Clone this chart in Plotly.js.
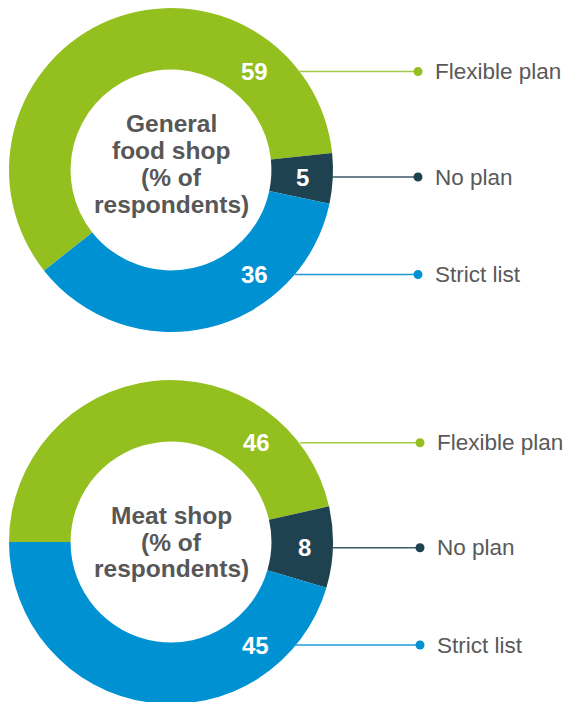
<!DOCTYPE html>
<html>
<head>
<meta charset="utf-8">
<script src="https://cdn.plot.ly/plotly-3.0.1.min.js"></script>
<style>
html,body{margin:0;padding:0;overflow:hidden;background:#fff;}
#chart{width:566px;height:710px;}
</style>
</head>
<body>
<div id="chart"></div>
<script>
// ---- data ----
const categories = ["Flexible plan", "No plan", "Strict list"];
const generalValues = [59, 5, 36];
const meatValues = [46, 8, 45];
const generalTitle = ["General", "food shop", "(% of", "respondents)"];
const meatTitle = ["Meat shop", "(% of", "respondents)"];
const sliceColors = ["#93c01f", "#1f4250", "#0091d3"];
const lineColors = ["#a3c94a", "#3d5966", "#1f9ad6"];

// ---- layout constants (pixels) ----
const W = 566, H = 710;
const R = 162;
const FONT = "Liberation Sans, Arial, Helvetica, sans-serif";

const charts = [
  {values: generalValues, title: generalTitle, cx: 171, cy: 170, rot: 231.6,
   labelY: [71.5, 177, 274.5], numX: [254, 302, 254], lineX0: [298, 332, 295],
   titleY: 164, dotX: 418},
  {values: meatValues, title: meatTitle, cx: 171, cy: 542, rot: 270,
   labelY: [442.7, 547.7, 645], numX: [256, 304, 255], lineX0: [300, 333, 295],
   titleY: 542, dotX: 420}
];

const traces = [];
const annotations = [];
const shapes = [];
const LINE_H = 26.7;

charts.forEach(c => {
  traces.push({
    type: "pie",
    values: c.values,
    labels: categories,
    sort: false,
    direction: "clockwise",
    rotation: c.rot,
    hole: 0.62,
    textinfo: "none",
    hoverinfo: "skip",
    showlegend: false,
    marker: {colors: sliceColors, line: {width: 0}},
    domain: {
      x: [(c.cx - R) / W, (c.cx + R) / W],
      y: [(H - (c.cy + R)) / H, (H - (c.cy - R)) / H]
    }
  });
  // centre title, one annotation per line for tight line spacing
  const n = c.title.length;
  c.title.forEach((t, i) => {
    annotations.push({
      xref: "x", yref: "y", x: c.cx, y: c.titleY + (i - (n - 1) / 2) * LINE_H,
      text: "<b>" + t + "</b>", showarrow: false, xanchor: "center", yanchor: "middle",
      font: {family: FONT, size: 24.5, color: "#575757"}
    });
  });
  categories.forEach((cat, i) => {
    // value labels
    annotations.push({
      xref: "x", yref: "y", x: c.numX[i], y: c.labelY[i],
      text: "<b>" + c.values[i] + "</b>", showarrow: false,
      xanchor: "center", yanchor: "middle",
      font: {family: FONT, size: 24, color: "#ffffff"}
    });
    // category labels
    annotations.push({
      xref: "x", yref: "y", x: c.dotX + 15, y: c.labelY[i],
      text: cat, showarrow: false, xanchor: "left", yanchor: "middle",
      font: {family: FONT, size: 22.5, color: "#595959"}
    });
    // leader line
    shapes.push({
      type: "line", xref: "x", yref: "y",
      x0: c.lineX0[i], x1: c.dotX, y0: c.labelY[i], y1: c.labelY[i],
      line: {color: lineColors[i], width: 1.6}, layer: "above"
    });
    // dot
    shapes.push({
      type: "circle", xref: "x", yref: "y",
      x0: c.dotX - 4.5, x1: c.dotX + 4.5, y0: c.labelY[i] - 4.5, y1: c.labelY[i] + 4.5,
      fillcolor: sliceColors[i], line: {width: 0}, layer: "above"
    });
  });
});

const layout = {
  width: W, height: H,
  margin: {l: 0, r: 0, t: 0, b: 0},
  paper_bgcolor: "#ffffff", plot_bgcolor: "rgba(0,0,0,0)",
  xaxis: {range: [0, W], visible: false, fixedrange: true},
  yaxis: {range: [H, 0], visible: false, fixedrange: true},
  annotations: annotations,
  shapes: shapes,
  showlegend: false
};

Plotly.newPlot("chart", traces, layout, {displayModeBar: false, staticPlot: true});
</script>
</body>
</html>
